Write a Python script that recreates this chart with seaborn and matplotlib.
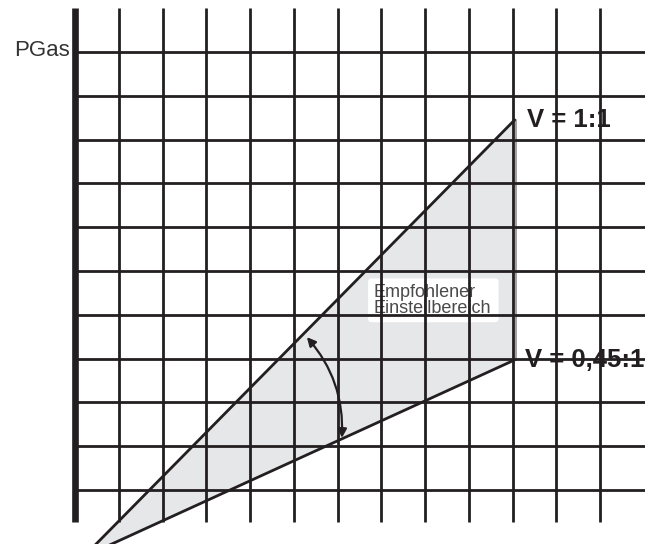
import matplotlib
matplotlib.use("Agg")
import matplotlib.pyplot as plt
import seaborn as sns
import pandas as pd
from matplotlib.patches import FancyArrowPatch, FancyBboxPatch, Polygon

# ---- data (grid units) ----
grid_x = [1, 2, 3, 4, 5, 6, 7, 8, 9, 10, 11, 12]
grid_y = [1, 2, 3, 4, 5, 6, 7, 8, 9, 10, 11]
grid_top = 12.0
grid_bottom = 0.27
grid_right = 13.1

apex = [0.19, -0.53]
end_x = 10.05
upper_y = 9.45     # V = 1:1
lower_y = 3.97     # V = 0,45:1

labels = ["V = 1:1", "V = 0,45:1"]
axis_label = "PGas"
region_text = ["Empfohlener", "Einstellbereich"]

arrow_start = [5.30, 4.49]
arrow_end = [6.10, 2.19]

# ---- style ----
sns.set_style("white")
plt.rcParams["font.family"] = ["Liberation Sans", "DejaVu Sans"]
ink = "#231f20"

fig = plt.figure(figsize=(6.45, 5.44), dpi=100)
ax = fig.add_axes([0, 0, 1, 1])

# shaded region
tri = Polygon([apex, [end_x, upper_y], [end_x, lower_y]], closed=True,
              facecolor="#e6e7e8", edgecolor="none", zorder=1)
ax.add_patch(tri)
ax.plot([end_x + 0.03, end_x + 0.03], [lower_y, upper_y], color="#9a9a9a",
        lw=1.3, zorder=1.5)

# text box
box = FancyBboxPatch((6.70, 4.83), 2.98, 1.0,
                     boxstyle="round,pad=0,rounding_size=0.08",
                     facecolor="white", edgecolor="none", zorder=2)
ax.add_patch(box)
ax.text(6.83, 5.40, region_text[0], fontsize=13, color="#4a4a4a",
        ha="left", va="baseline", zorder=3)
ax.text(6.83, 5.04, region_text[1], fontsize=13, color="#4a4a4a",
        ha="left", va="baseline", zorder=3)

# grid
ax.vlines(grid_x, grid_bottom, grid_top, color=ink, lw=2.0, zorder=4)
ax.hlines(grid_y, 0, grid_right, color=ink, lw=2.0, zorder=4)
ax.vlines([0], grid_bottom, grid_top, color=ink, lw=4.8, zorder=6)

# boundary lines
df_up = pd.DataFrame({"x": [apex[0], end_x], "y": [apex[1], upper_y]})
df_lo = pd.DataFrame({"x": [apex[0], end_x], "y": [apex[1], lower_y]})
sns.lineplot(data=df_up, x="x", y="y", ax=ax, color=ink, lw=2.0, zorder=5)
sns.lineplot(data=df_lo, x="x", y="y", ax=ax, color=ink, lw=2.0, zorder=5)
ax.set_xlim(-75 / 43.75, (645 - 75) / 43.75)
ax.set_ylim((533.8 - 544) / 43.8, 533.8 / 43.8)
ax.set_axis_off()

# curved double arrow
arr = FancyArrowPatch(arrow_start, arrow_end, arrowstyle="<|-|>",
                      connectionstyle="arc3,rad=-0.2", mutation_scale=13,
                      color=ink, lw=1.6, zorder=5, shrinkA=0, shrinkB=0)
ax.add_patch(arr)

# labels
ax.text(-0.11, 10.92, axis_label, fontsize=16, color="#333333",
        ha="right", va="baseline", zorder=6)
ax.text(10.33, 9.29, labels[0], fontsize=18.5, fontweight="bold",
        color=ink, ha="left", va="baseline", zorder=6)
ax.text(10.29, 3.81, labels[1], fontsize=18.5, fontweight="bold",
        color=ink, ha="left", va="baseline", zorder=6)

fig.savefig("out.png", dpi=100)
